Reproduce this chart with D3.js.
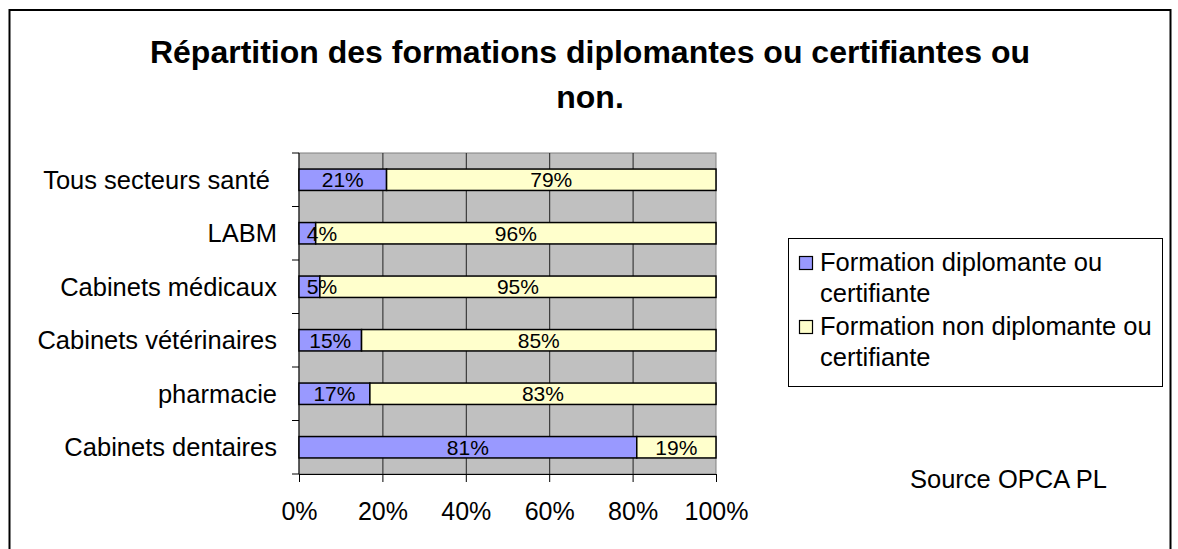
<!DOCTYPE html>
<html>
<head>
<meta charset="utf-8">
<script src="https://cdn.jsdelivr.net/npm/d3@7"></script>
<style>
  body { margin: 0; background: #fff; }
  svg text { font-family: "Liberation Sans", Arial, sans-serif; fill: #000; }
</style>
</head>
<body>
<svg id="chart" width="1178" height="549"></svg>
<script>
// data (top to bottom, as shown)
var categories = ["Tous secteurs santé", "LABM", "Cabinets médicaux",
                  "Cabinets vétérinaires", "pharmacie", "Cabinets dentaires"];
var diplomante = [21, 4, 5, 15, 17, 81];
var nonDiplomante = [79, 96, 95, 85, 83, 19];
var seriesNames = ["Formation diplomante ou certifiante",
                   "Formation non diplomante ou certifiante"];
var xTicks = [0, 20, 40, 60, 80, 100];
var colors = ["#9999FF", "#FFFFCC"];

var svg = d3.select("#chart");

// outer frame
svg.append("rect")
    .attr("x", 9.5).attr("y", 10)
    .attr("width", 1161).attr("height", 560)
    .attr("fill", "none")
    .attr("stroke", "#000")
    .attr("stroke-width", 2);

// title
var title = svg.append("text")
    .attr("text-anchor", "middle")
    .style("font-size", "32px")
    .style("font-weight", "bold");
title.append("tspan").attr("x", 590).attr("y", 63)
    .text("Répartition des formations diplomantes ou certifiantes ou");
title.append("tspan").attr("x", 590).attr("y", 108)
    .text("non.");

// scales
var plot = { left: 299, right: 716, top: 153, bottom: 474 };

var x = d3.scaleLinear()
    .domain([0, 100])
    .range([plot.left, plot.right]);

var y = d3.scaleBand()
    .domain(categories)
    .range([plot.top, plot.bottom])
    .paddingInner(0.6)
    .paddingOuter(0.3);

// plot area
svg.append("rect")
    .attr("x", plot.left).attr("y", plot.top)
    .attr("width", plot.right - plot.left)
    .attr("height", plot.bottom - plot.top)
    .attr("fill", "#C0C0C0")
    .attr("stroke", "#808080")
    .attr("stroke-width", 1);

// vertical gridlines
svg.append("g")
    .attr("transform", "translate(0," + plot.bottom + ")")
    .call(d3.axisBottom(x).tickValues(xTicks.slice(1, -1))
        .tickSize(-(plot.bottom - plot.top)).tickFormat(""))
    .call(function (g) { g.select(".domain").remove(); })
    .selectAll("line")
    .attr("stroke", "#222");

// x axis
svg.append("g")
    .attr("transform", "translate(0," + plot.bottom + ")")
    .call(d3.axisBottom(x).tickValues(xTicks).tickSize(8).tickSizeOuter(0)
        .tickPadding(20).tickFormat(function (d) { return d + "%"; }))
    .call(function (g) {
        g.select(".domain").attr("stroke", "#000");
        g.selectAll("line").attr("stroke", "#000");
        g.selectAll("text")
            .style("font-size", "25px")
            .style("font-family", "Liberation Sans, Arial, sans-serif")
            .attr("fill", "#000");
    });

// y axis: line and ticks at category boundaries
var step = y.step();
var boundaries = d3.range(categories.length + 1).map(function (i) { return plot.top + i * step; });
svg.append("line")
    .attr("x1", plot.left).attr("x2", plot.left)
    .attr("y1", plot.top).attr("y2", plot.bottom)
    .attr("stroke", "#000");
svg.selectAll(".ytick")
    .data(boundaries)
    .enter()
    .append("line")
    .attr("class", "ytick")
    .attr("x1", plot.left - 7).attr("x2", plot.left)
    .attr("y1", function (d) { return d; })
    .attr("y2", function (d) { return d; })
    .attr("stroke", "#000");

svg.selectAll(".ylabel")
    .data(categories)
    .enter()
    .append("text")
    .attr("class", "ylabel")
    .attr("x", 277)
    .attr("y", function (d) { return y(d) + y.bandwidth() / 2; })
    .attr("dy", "0.35em")
    .attr("text-anchor", "end")
    .style("font-size", "25.5px")
    .text(function (d, i) { return i === 0 ? d + "\u00a0" : d; });

// stacked bars
var rows = categories.map(function (c, i) {
    return { cat: c, a: diplomante[i], b: nonDiplomante[i] };
});
var layers = d3.stack().keys(["a", "b"])(rows);

svg.selectAll(".layer")
    .data(layers)
    .enter()
    .append("g")
    .attr("class", "layer")
    .attr("fill", function (d, i) { return colors[i]; })
    .selectAll("rect")
    .data(function (d) { return d; })
    .enter()
    .append("rect")
    .attr("x", function (d) { return x(d[0]); })
    .attr("y", function (d) { return y(d.data.cat); })
    .attr("width", function (d) { return x(d[1]) - x(d[0]); })
    .attr("height", y.bandwidth())
    .attr("stroke", "#000")
    .attr("stroke-width", 1.5);

// data labels, drawn after every bar so nothing covers them
var segs = layers[0].concat(layers[1]);
svg.append("g")
    .selectAll("text")
    .data(segs)
    .enter()
    .append("text")
    .attr("x", function (d) {
        var c = (x(d[0]) + x(d[1])) / 2;
        return Math.max(c, plot.left + 23);
    })
    .attr("y", function (d) { return y(d.data.cat) + y.bandwidth() / 2; })
    .attr("dy", "0.36em")
    .attr("text-anchor", "middle")
    .style("font-size", "21px")
    .text(function (d) { return (d[1] - d[0]) + "%"; });

// legend
var legend = svg.append("g");
legend.append("rect")
    .attr("x", 788.5).attr("y", 238.5)
    .attr("width", 374).attr("height", 148)
    .attr("fill", "#fff")
    .attr("stroke", "#000")
    .attr("stroke-width", 1);

var legendLines = [["Formation diplomante ou", "certifiante"],
                   ["Formation non diplomante ou", "certifiante"]];
seriesNames.forEach(function (name, i) {
    var top = 250 + i * 64;
    legend.append("rect")
        .attr("x", 799.5).attr("y", top + 6.5)
        .attr("width", 13).attr("height", 13)
        .attr("fill", colors[i])
        .attr("stroke", "#000")
        .attr("stroke-width", 1.2);
    var t = legend.append("text")
        .style("font-size", "25.5px");
    legendLines[i].forEach(function (line, j) {
        t.append("tspan")
            .attr("x", 820)
            .attr("y", top + 21 + j * 31)
            .text(line);
    });
});

// source note
svg.append("text")
    .attr("x", 910)
    .attr("y", 488)
    .style("font-size", "25.5px")
    .text("Source OPCA PL");
</script>
</body>
</html>
